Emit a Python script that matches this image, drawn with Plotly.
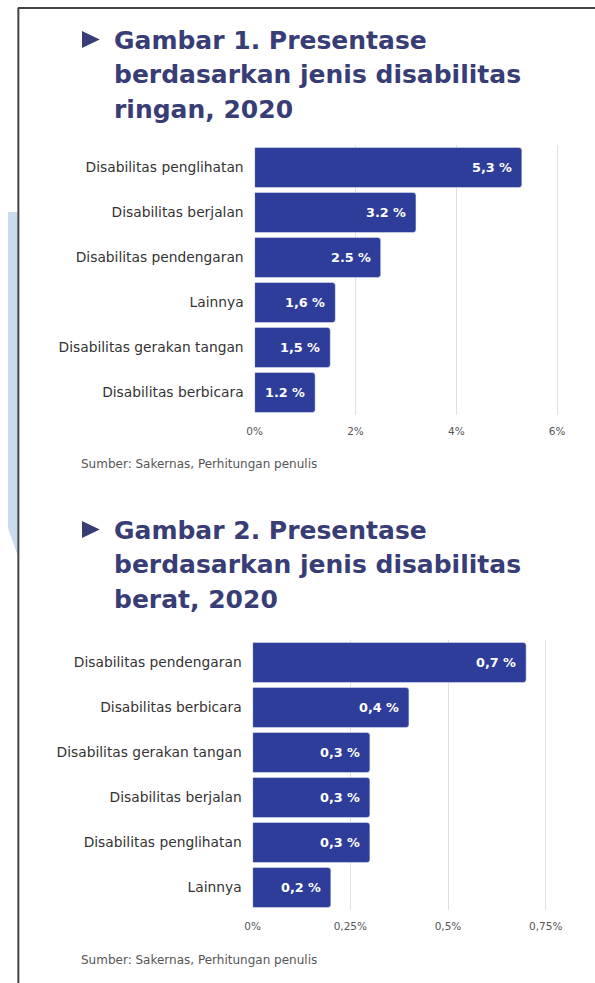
import plotly.graph_objects as go

W, H = 595, 983

# ---------- data ----------
cats1 = ["Disabilitas penglihatan", "Disabilitas berjalan", "Disabilitas pendengaran",
         "Lainnya", "Disabilitas gerakan tangan", "Disabilitas berbicara"]
vals1 = [5.3, 3.2, 2.5, 1.6, 1.5, 1.2]
labels1 = ["5,3 %", "3.2 %", "2.5 %", "1,6 %", "1,5 %", "1.2 %"]
ticks1 = [0, 2, 4, 6]
ticktext1 = ["0%", "2%", "4%", "6%"]
title1 = ["Gambar 1. Presentase", "berdasarkan jenis disabilitas", "ringan, 2020"]

cats2 = ["Disabilitas pendengaran", "Disabilitas berbicara", "Disabilitas gerakan tangan",
         "Disabilitas berjalan", "Disabilitas penglihatan", "Lainnya"]
vals2 = [0.7, 0.4, 0.3, 0.3, 0.3, 0.2]
labels2 = ["0,7 %", "0,4 %", "0,3 %", "0,3 %", "0,3 %", "0,2 %"]
ticks2 = [0, 0.25, 0.5, 0.75]
ticktext2 = ["0%", "0,25%", "0,5%", "0,75%"]
title2 = ["Gambar 2. Presentase", "berdasarkan jenis disabilitas", "berat, 2020"]

source = "Sumber: Sakernas, Perhitungan penulis"

# ---------- style ----------
BAR = "#2e3c9a"
TITLE = "#383d76"
GRID = "#e0e0e0"
LABEL_FONT = dict(family="DejaVu Sans", size=13.8, color="#333333")
BARLABEL_FONT = dict(family="DejaVu Sans", size=12.8, color="white", weight="bold")


def px(x):
    return x / W


def py(y):
    return 1 - y / H


fig = go.Figure()
fig.add_trace(go.Bar(x=vals1, y=cats1, orientation="h", marker=dict(color=BAR, cornerradius=3),
                     xaxis="x", yaxis="y", hoverinfo="skip"))
fig.add_trace(go.Bar(x=vals2, y=cats2, orientation="h", marker=dict(color=BAR, cornerradius=3),
                     xaxis="x2", yaxis="y2", hoverinfo="skip"))

annotations = []
for v, c, t in zip(vals1, cats1, labels1):
    annotations.append(dict(x=v, y=c, xref="x", yref="y", text=t, showarrow=False,
                            xanchor="right", xshift=-8, font=BARLABEL_FONT))
for v, c, t in zip(vals2, cats2, labels2):
    annotations.append(dict(x=v, y=c, xref="x2", yref="y2", text=t, showarrow=False,
                            xanchor="right", xshift=-8, font=BARLABEL_FONT))

# titles
for lines, baselines in ((title1, [50, 84, 119]), (title2, [540, 574, 609])):
    for line, b in zip(lines, baselines):
        annotations.append(dict(x=px(105), y=py(b + 7), xref="paper", yref="paper", text=line,
                                showarrow=False, xanchor="left", yanchor="bottom",
                                font=dict(family="DejaVu Sans", size=25, color=TITLE, weight="bold")))

# sources
for y in (464, 960):
    annotations.append(dict(x=px(72), y=py(y), xref="paper", yref="paper", text=source,
                            showarrow=False, xanchor="left", yanchor="middle",
                            font=dict(family="DejaVu Sans", size=12, color="#555555")))

shapes = []
# title triangles
for top in (31, 521):
    shapes.append(dict(type="path", xref="paper", yref="paper",
                       path=f"M {px(75)},{py(top)} L {px(93)},{py(top + 8.5)} L {px(75)},{py(top + 17)} Z",
                       fillcolor=TITLE, line=dict(width=0)))
# left light blue band
shapes.append(dict(type="path", xref="paper", yref="paper",
                   path=f"M 0,{py(212)} L {px(10)},{py(212)} L {px(10)},{py(556)} L 0,{py(528)} Z",
                   fillcolor="#c8dbef", line=dict(width=0), layer="below"))
# frame lines
shapes.append(dict(type="line", xref="paper", yref="paper", x0=px(10.5), x1=px(10.5), y0=py(8), y1=0,
                   line=dict(color="#444444", width=2)))
shapes.append(dict(type="line", xref="paper", yref="paper", x0=px(10), x1=1, y0=py(8), y1=py(8),
                   line=dict(color="#444444", width=2)))

axis_common = dict(showgrid=True, gridcolor=GRID, gridwidth=1, zeroline=False, showline=False,
                   tickfont=dict(family="DejaVu Sans", size=10.5, color="#555555"), fixedrange=True,
                   ticklabelstandoff=8)

fig.update_layout(
    width=W, height=H,
    margin=dict(l=0, r=0, t=0, b=0),
    paper_bgcolor="white", plot_bgcolor="white",
    showlegend=False, bargap=0.11,
    xaxis=dict(domain=[px(250), px(250 + 6.3 * 51.1)], range=[0, 6.3], tickvals=ticks1,
               ticktext=ticktext1, anchor="y", **axis_common),
    yaxis=dict(domain=[py(415), py(145)], autorange="reversed", categoryorder="array",
               categoryarray=cats1, anchor="x", showgrid=False, zeroline=False,
               tickfont=LABEL_FONT, ticklabelstandoff=10, fixedrange=True),
    xaxis2=dict(domain=[px(248), px(248 + 0.8 * 396)], range=[0, 0.8], tickvals=ticks2,
                ticktext=ticktext2, anchor="y2", **axis_common),
    yaxis2=dict(domain=[py(910), py(640)], autorange="reversed", categoryorder="array",
                categoryarray=cats2, anchor="x2", showgrid=False, zeroline=False,
                tickfont=LABEL_FONT, ticklabelstandoff=10, fixedrange=True),
    annotations=annotations,
    shapes=shapes,
)

fig.write_html("out.html", post_script="document.body.style.margin='0';")
